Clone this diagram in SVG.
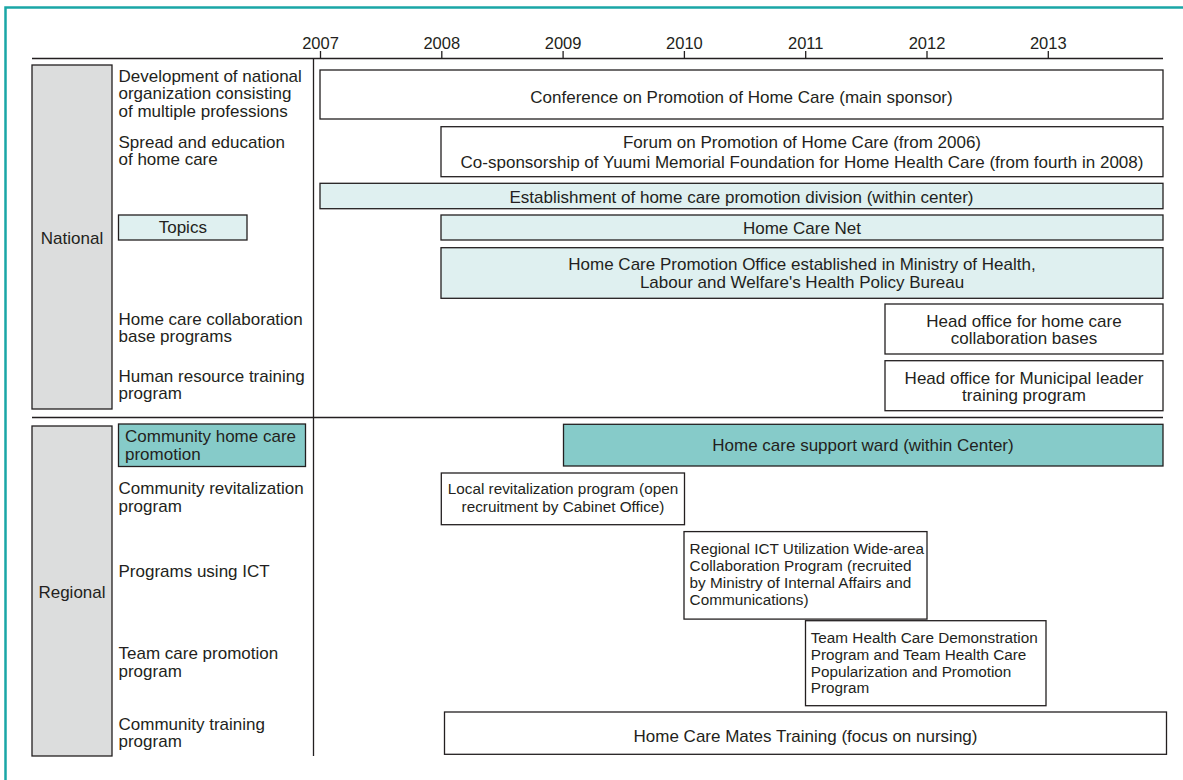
<svg xmlns="http://www.w3.org/2000/svg" width="1183" height="780" viewBox="0 0 1183 780">
<style>
text{font-family:"Liberation Sans",Arial,sans-serif;fill:#231f20}
.lbl{font-size:17px}
.yr{font-size:16.5px;text-anchor:middle}
.bt{font-size:17px;text-anchor:middle}
.st{font-size:15.3px}
.stc{font-size:15.3px;text-anchor:middle}
.box{fill:#fff;stroke:#231f20;stroke-width:1.3}
.lt{fill:#dff0f0;stroke:#231f20;stroke-width:1.3}
.tl{fill:#86cbc9;stroke:#231f20;stroke-width:1.3}
.gr{fill:#dcdddd;stroke:#231f20;stroke-width:1.3}
.ln{stroke:#231f20;stroke-width:1.3;fill:none}
</style>
<rect x="0" y="0" width="1183" height="780" fill="#fff"/>
<rect x="5.5" y="7.5" width="1200" height="800" fill="none" stroke="#1aa6a6" stroke-width="2.5"/>

<g id="axis">
<line class="ln" x1="32" y1="58.5" x2="1163" y2="58.5"/>
<line class="ln" x1="313.5" y1="58.5" x2="313.5" y2="756"/>
<line class="ln" x1="32" y1="417.5" x2="1163" y2="417.5"/>
<g class="ln">
<line x1="320.5" y1="51" x2="320.5" y2="58.5"/>
<line x1="441.8" y1="51" x2="441.8" y2="58.5"/>
<line x1="563.1" y1="51" x2="563.1" y2="58.5"/>
<line x1="684.4" y1="51" x2="684.4" y2="58.5"/>
<line x1="805.7" y1="51" x2="805.7" y2="58.5"/>
<line x1="927" y1="51" x2="927" y2="58.5"/>
<line x1="1048.3" y1="51" x2="1048.3" y2="58.5"/>
</g>
<text class="yr" x="320.5" y="48.5">2007</text>
<text class="yr" x="441.8" y="48.5">2008</text>
<text class="yr" x="563.1" y="48.5">2009</text>
<text class="yr" x="684.4" y="48.5">2010</text>
<text class="yr" x="805.7" y="48.5">2011</text>
<text class="yr" x="927" y="48.5">2012</text>
<text class="yr" x="1048.3" y="48.5">2013</text>
</g>

<g id="national">
<rect class="gr" x="32" y="65" width="80" height="344"/>
<text class="lbl" x="72" y="244" text-anchor="middle">National</text>
</g>
<g id="regional">
<rect class="gr" x="32" y="426" width="80" height="330"/>
<text class="lbl" x="72" y="598" text-anchor="middle">Regional</text>
</g>

<g id="row-labels">
<text class="lbl" x="118.5" y="82">Development of national</text>
<text class="lbl" x="118.5" y="99.3">organization consisting</text>
<text class="lbl" x="118.5" y="116.7">of multiple professions</text>
<text class="lbl" x="118.5" y="148">Spread and education</text>
<text class="lbl" x="118.5" y="165.3">of home care</text>
<text class="lbl" x="118.5" y="325">Home care collaboration</text>
<text class="lbl" x="118.5" y="342.3">base programs</text>
<text class="lbl" x="118.5" y="381.7">Human resource training</text>
<text class="lbl" x="118.5" y="399">program</text>
<text class="lbl" x="118.5" y="494.3">Community revitalization</text>
<text class="lbl" x="118.5" y="511.7">program</text>
<text class="lbl" x="118.5" y="576.7">Programs using ICT</text>
<text class="lbl" x="118.5" y="659.3">Team care promotion</text>
<text class="lbl" x="118.5" y="676.7">program</text>
<text class="lbl" x="118.5" y="730">Community training</text>
<text class="lbl" x="118.5" y="747">program</text>
</g>

<g id="topics">
<rect class="lt" x="118.5" y="215" width="128.5" height="25"/>
<text class="bt" x="182.8" y="233">Topics</text>
</g>
<g id="community-home-care-promotion">
<rect class="tl" x="118.5" y="424" width="187" height="42.5"/>
<text class="lbl" x="125" y="442.3">Community home care</text>
<text class="lbl" x="125" y="459.7">promotion</text>
</g>

<g id="conference">
<rect class="box" x="320" y="70" width="843" height="49"/>
<text class="bt" x="741.5" y="102.5">Conference on Promotion of Home Care (main sponsor)</text>
</g>
<g id="forum">
<rect class="box" x="441" y="126.7" width="722" height="50"/>
<text class="bt" x="802" y="147.5">Forum on Promotion of Home Care (from 2006)</text>
<text class="bt" x="802" y="168">Co-sponsorship of Yuumi Memorial Foundation for Home Health Care (from fourth in 2008)</text>
</g>
<g id="establishment">
<rect class="lt" x="320" y="183.3" width="843" height="25.4"/>
<text class="bt" x="741.5" y="202.5">Establishment of home care promotion division (within center)</text>
</g>
<g id="home-care-net">
<rect class="lt" x="441" y="215" width="722" height="25"/>
<text class="bt" x="802" y="233.5">Home Care Net</text>
</g>
<g id="promotion-office">
<rect class="lt" x="441" y="247.7" width="722" height="50.6"/>
<text class="bt" x="802" y="270.3">Home Care Promotion Office established in Ministry of Health,</text>
<text class="bt" x="802" y="287.7">Labour and Welfare's Health Policy Bureau</text>
</g>
<g id="head-office-bases">
<rect class="box" x="885" y="304" width="278" height="50"/>
<text class="bt" x="1024" y="326.7">Head office for home care</text>
<text class="bt" x="1024" y="344">collaboration bases</text>
</g>
<g id="head-office-municipal">
<rect class="box" x="885" y="360.7" width="278" height="50"/>
<text class="bt" x="1024" y="384.3">Head office for Municipal leader</text>
<text class="bt" x="1024" y="401">training program</text>
</g>
<g id="support-ward">
<rect class="tl" x="563.5" y="424.3" width="599.5" height="41.7"/>
<text class="bt" x="863" y="450.5">Home care support ward (within Center)</text>
</g>
<g id="local-revitalization">
<rect class="box" x="441.3" y="473" width="243.2" height="51.7"/>
<text class="stc" x="563" y="494.4">Local revitalization program (open</text>
<text class="stc" x="563" y="511.7">recruitment by Cabinet Office)</text>
</g>
<g id="regional-ict">
<rect class="box" x="684" y="531.6" width="243" height="87.5"/>
<text class="st" x="689.6" y="553.7">Regional ICT Utilization Wide-area</text>
<text class="st" x="689.6" y="570.9">Collaboration Program (recruited</text>
<text class="st" x="689.6" y="588.1">by Ministry of Internal Affairs and</text>
<text class="st" x="689.6" y="604.6">Communications)</text>
</g>
<g id="team-health-care">
<rect class="box" x="805.5" y="620.7" width="240.5" height="85"/>
<text class="st" x="810.7" y="643.3">Team Health Care Demonstration</text>
<text class="st" x="810.7" y="660">Program and Team Health Care</text>
<text class="st" x="810.7" y="676.7">Popularization and Promotion</text>
<text class="st" x="810.7" y="693.3">Program</text>
</g>
<g id="home-care-mates">
<rect class="box" x="444.5" y="712" width="722" height="42.3"/>
<text class="bt" x="805.5" y="742">Home Care Mates Training (focus on nursing)</text>
</g>
</svg>
